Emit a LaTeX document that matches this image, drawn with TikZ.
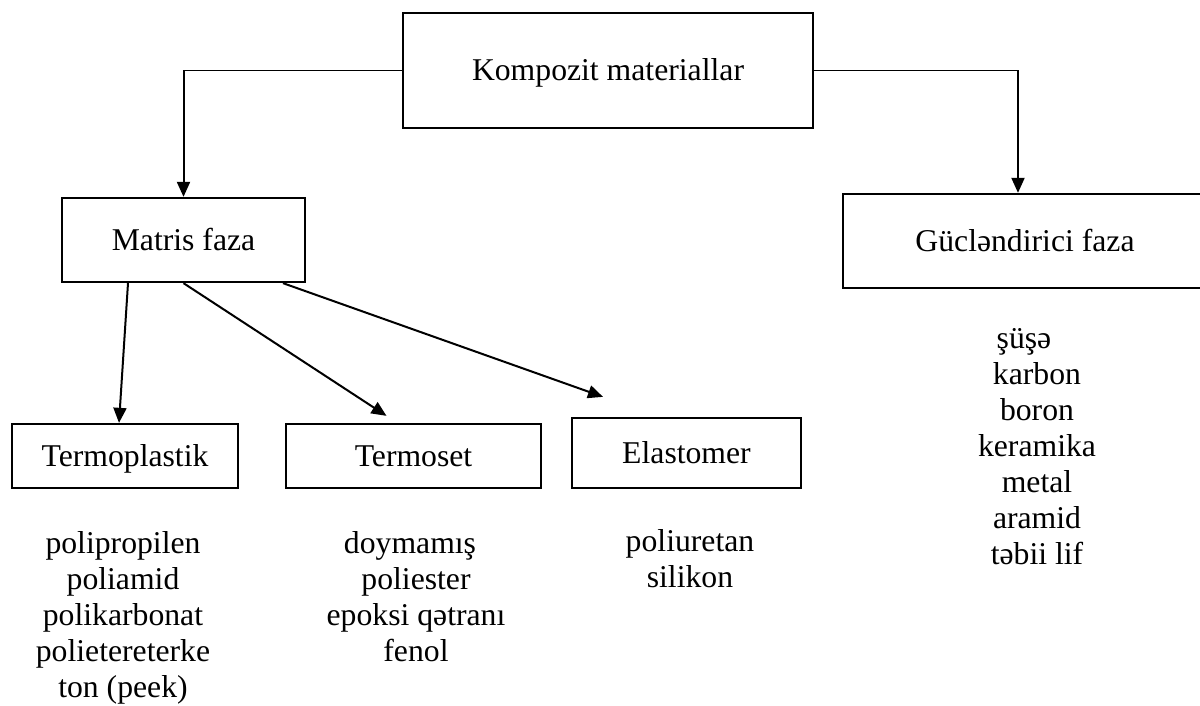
\documentclass[tikz,border=0pt]{standalone}
\usepackage{fontspec}
\setmainfont{Liberation Serif}
\usetikzlibrary{arrows.meta}
\begin{document}
\begin{tikzpicture}[x=1pt,y=-1pt,
  box/.style={draw, line width=2.3pt, inner sep=0pt, text height=21pt, text depth=0pt, font=\fontsize{31.7}{36}\selectfont},
  txt/.style={anchor=base, inner sep=0pt, font=\fontsize{31.7}{36}\selectfont},
  thinline/.style={line width=1.3pt},
  arr/.style={line width=2pt, -{Triangle[length=15pt,width=13pt]}},
]
\useasboundingbox (0,0) rectangle (1200,706);
\node[box, minimum width=410pt, minimum height=115pt] (komp) at (608,70.5) {Kompozit materiallar};
\node[box, minimum width=243pt, minimum height=84pt] (matris) at (183.5,240) {Matris faza};
\node[box, minimum width=364pt, minimum height=94pt] (guc) at (1025,241) {Gücləndirici faza};
\node[box, minimum width=226pt, minimum height=64pt] (tp) at (125,456) {Termoplastik};
\node[box, minimum width=255pt, minimum height=64pt] (ts) at (413.5,456) {Termoset};
\node[box, minimum width=229pt, minimum height=70pt] (el) at (686.5,453) {Elastomer};

\coordinate (c1) at (komp.west -| matris.north);
\draw[thinline] (komp.west) -- (c1);
\draw[arr] (c1) -- (matris.north);
\coordinate (gt) at ([xshift=-7pt]guc.north);
\coordinate (c2) at (komp.east -| gt);
\draw[thinline] (komp.east) -- (c2);
\draw[arr] (c2) -- (gt);

\draw[arr] ([xshift=-55.5pt]matris.south) -- ([xshift=-6pt]tp.north);
\draw[arr] (matris.south) -- ([xshift=-27pt,yshift=7pt]ts.north);
\draw[arr] ([xshift=99.5pt]matris.south) -- ([xshift=-83.5pt,yshift=20pt]el.north);

\node[txt] (a1) at (123,553) {polipropilen};
\node[txt] (a2) at (123,589) {poliamid};
\node[txt] (a3) at (123,625) {polikarbonat};
\node[txt] (a4) at (123,661) {polietereterke};
\node[txt] (a5) at (123,697) {ton (peek)};

\node[txt] (b1) at (410,553) {doymamış};
\node[txt] (b2) at (416,589) {poliester};
\node[txt] (b3) at (416,625) {epoksi qətranı};
\node[txt] (b4) at (416,661) {fenol};

\node[txt] (e1) at (690,551) {poliuretan};
\node[txt] (e2) at (690,587) {silikon};

\node[txt] (g1) at (1024,348) {şüşə};
\node[txt] (g2) at (1037,384) {karbon};
\node[txt] (g3) at (1037,420) {boron};
\node[txt] (g4) at (1037,456) {keramika};
\node[txt] (g5) at (1037,492) {metal};
\node[txt] (g6) at (1037,528) {aramid};
\node[txt] (g7) at (1037,564) {təbii lif};
\end{tikzpicture}
\end{document}
